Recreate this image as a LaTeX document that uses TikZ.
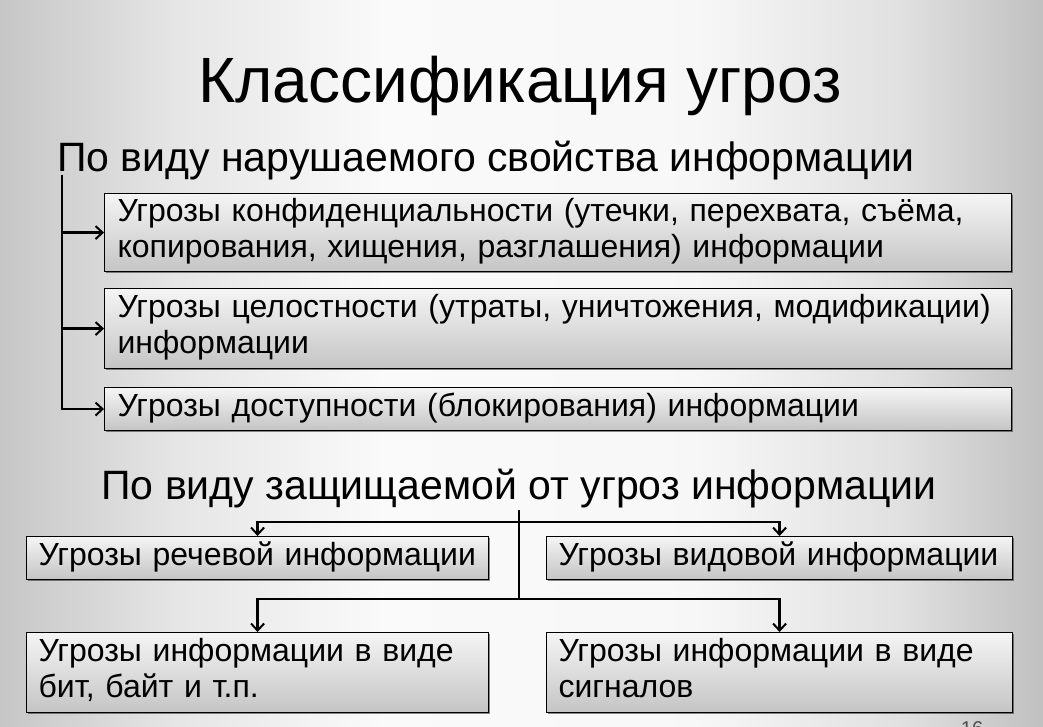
\documentclass[tikz,border=0pt]{standalone}
\usepackage{fontspec}
\setmainfont{Liberation Sans}
\usetikzlibrary{arrows.meta,shadows}
\definecolor{bg0}{gray}{0.56}
\definecolor{bg1}{gray}{0.72}
\definecolor{bg2}{gray}{0.90}
\definecolor{bg3}{gray}{0.98}
\definecolor{bg4}{gray}{0.97}
\definecolor{bg5}{gray}{0.88}
\definecolor{bg6}{gray}{0.68}
\definecolor{bg7}{gray}{0.54}
\definecolor{boxtop}{gray}{0.96}
\definecolor{boxbot}{gray}{0.77}
\definecolor{pgcol}{gray}{0.3}
\pgfdeclarehorizontalshading{bgsh}{100bp}{color(0bp)=(bg0); color(25bp)=(bg0); color(32.5bp)=(bg1); color(40bp)=(bg2); color(46bp)=(bg3); color(55bp)=(bg4); color(61bp)=(bg5); color(67.5bp)=(bg6); color(75bp)=(bg7); color(100bp)=(bg7)}
\newcommand\bxfont{\fontsize{32}{36}\selectfont}
\tikzset{
  tbox/.style={draw=black, line width=1.1pt, top color=boxtop, bottom color=boxbot,
    drop shadow={shadow xshift=1.8pt, shadow yshift=-1.8pt, opacity=0.45, fill=black},
    anchor=north west, inner xsep=13pt, inner ysep=0pt, align=left, font=\bxfont},
  conn/.style={draw=black, line width=2.4pt},
  arr/.style={conn, -{Straight Barb[length=7pt, width=13pt, line width=2pt]}},
}
\begin{document}
\begin{tikzpicture}[x=1pt, y=1pt]
\useasboundingbox (0,0) rectangle (1043,727);
\begin{scope}
\clip (0,0) rectangle (1043,727);
% background
\begin{scope}[shift={(521.5,363.5)}, rotate=-34.87]
\shade[shading=bgsh] (-635.5,-596.5) rectangle (635.5,596.5);
\end{scope}
% title and headings
\node[anchor=base, inner sep=0, font=\fontsize{64}{70}\selectfont] (title) at (520,624) {Классификация угроз};
\node[anchor=base west, inner sep=0, font=\fontsize{41}{48}\selectfont] (h1) at (57,555) {По виду нарушаемого свойства информации};
\node[anchor=base, inner sep=0, font=\fontsize{41}{48}\selectfont] (h2) at (519,227) {По виду защищаемой от угроз информации};
% upper boxes
\node[tbox, minimum width=907pt, minimum height=78pt, text width=881pt] (b1) at (104,534)
  {\strut Угрозы конфиденциальности (утечки, перехвата, съёма,\\\strut копирования, хищения, разглашения) информации};
\node[tbox, minimum width=907pt, minimum height=80pt, text width=881pt] (b2) at (104,439)
  {\strut Угрозы целостности (утраты, уничтожения, модификации)\\\strut информации};
\node[tbox, minimum width=907pt, minimum height=43pt, text width=881pt] (b3) at (104,340)
  {\strut Угрозы доступности (блокирования) информации};
% lower boxes
\node[tbox, inner xsep=12pt, minimum width=462pt, minimum height=43pt, text width=438pt] (r1a) at (26,191)
  {\strut Угрозы речевой информации};
\node[tbox, inner xsep=12pt, minimum width=466pt, minimum height=43pt, text width=442pt] (r1b) at (546,191)
  {\strut Угрозы видовой информации};
\node[tbox, inner xsep=12pt, minimum width=462pt, minimum height=80pt, text width=438pt] (r2a) at (26,95)
  {\strut Угрозы информации в виде\\\strut бит, байт и т.п.};
\node[tbox, inner xsep=12pt, minimum width=466pt, minimum height=80pt, text width=442pt] (r2b) at (546,95)
  {\strut Угрозы информации в виде\\\strut сигналов};
% upper connectors
\coordinate (vtop) at (62,552);
\draw[arr] (vtop) |- (b3.west);
\draw[arr] (vtop |- b1.west) -- (b1.west);
\draw[arr] (vtop |- b2.west) -- (b2.west);
% lower connectors
\coordinate (ltop) at (519,217);
\coordinate (hone) at (519,205);
\coordinate (htwo) at (519,128);
\draw[conn] (ltop) -- (htwo);
\draw[arr] (hone) -| (r1a.north);
\draw[arr] (hone) -| (r1b.north);
\draw[arr] (htwo) -| (r2a.north);
\draw[arr] (htwo) -| (r2b.north);
% page number
\node[anchor=base, inner sep=0, text=pgcol, font=\fontsize{20}{24}\selectfont] (pg) at (972,-9) {16};
\end{scope}
\end{tikzpicture}
\end{document}
